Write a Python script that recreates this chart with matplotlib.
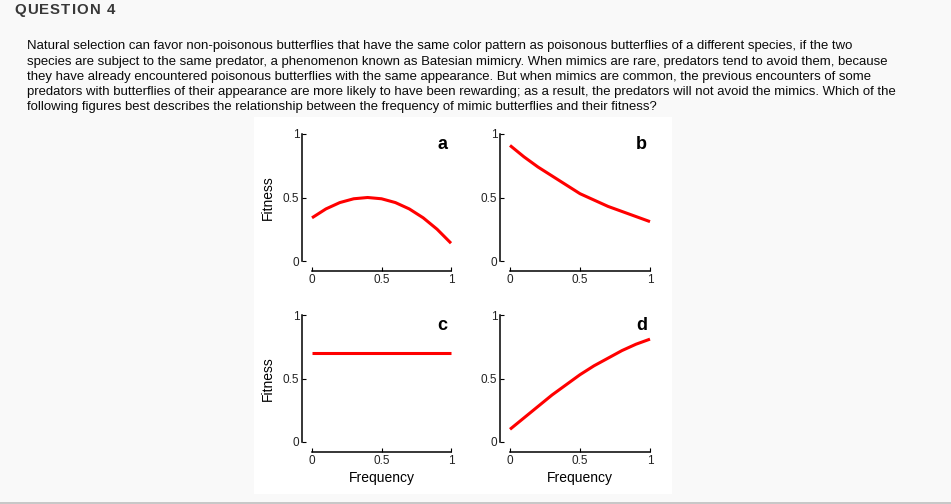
import matplotlib
matplotlib.use("Agg")
import matplotlib.pyplot as plt
from matplotlib.patches import Rectangle

freq = [0.0, 0.1, 0.2, 0.3, 0.4, 0.5, 0.6, 0.7, 0.8, 0.9, 1.0]
fitness_a = [0.34, 0.41, 0.46, 0.49, 0.50, 0.49, 0.46, 0.41, 0.34, 0.25, 0.14]
fitness_b = [0.91, 0.82, 0.74, 0.67, 0.60, 0.53, 0.48, 0.43, 0.39, 0.35, 0.31]
fitness_c = [0.70, 0.70, 0.70, 0.70, 0.70, 0.70, 0.70, 0.70, 0.70, 0.70, 0.70]
fitness_d = [0.10, 0.19, 0.28, 0.37, 0.45, 0.53, 0.60, 0.66, 0.72, 0.77, 0.81]
panel_letters = ["a", "b", "c", "d"]
tick_values = [0, 0.5, 1]
tick_labels = ["0", "0.5", "1"]

question_title = "QUESTION 4"
question_lines = [
    "Natural selection can favor non-poisonous butterflies that have the same color pattern as poisonous butterflies of a different species, if the two",
    "species are subject to the same predator, a phenomenon known as Batesian mimicry. When mimics are rare, predators tend to avoid them, because",
    "they have already encountered poisonous butterflies with the same appearance. But when mimics are common, the previous encounters of some",
    "predators with butterflies of their appearance are more likely to have been rewarding; as a result, the predators will not avoid the mimics. Which of the",
    "following figures best describes the relationship between the frequency of mimic butterflies and their fitness?",
]

W, H = 951, 504
FONT = "Liberation Sans"

fig = plt.figure(figsize=(W / 100, H / 100), dpi=100, facecolor="#f9f9f9")


def fx(px):
    return px / W


def fy(py):
    return 1 - py / H


# Белая подложка под рисунком и серая линия внизу (под осями)
fig.patches.append(Rectangle((fx(254), fy(494)), fx(672) - fx(254), fy(117) - fy(494),
                             transform=fig.transFigure, facecolor="white",
                             edgecolor="none", zorder=-10))
fig.patches.append(Rectangle((0, 0), 1, 2.5 / H, transform=fig.transFigure,
                             facecolor="#c8c8c8", edgecolor="none", zorder=-10))

# Заголовок с разрядкой
renderer = fig.canvas.get_renderer()
x = 14
for ch in question_title:
    if ch == " ":
        x += 5
        continue
    t = fig.text(fx(x), fy(14), ch, fontsize=10.8, fontweight="bold", family=FONT,
                 color="#383838", va="baseline", ha="left")
    x += t.get_window_extent(renderer).width + 1.2

# Текст вопроса
for i, line in enumerate(question_lines):
    fig.text(fx(27), fy(49.3 + i * 15.25), line, fontsize=9.45, family=FONT,
             color="#0a0a0a", va="baseline", ha="left")

# Положение осей в пикселях: (лево, верх, право, низ)
boxes = [(312, 134, 451, 261), (510, 134, 650, 261),
         (312, 315, 451, 442), (510, 315, 650, 442)]
series = [fitness_a, fitness_b, fitness_c, fitness_d]

for idx, (box, ys, letter) in enumerate(zip(boxes, series, panel_letters)):
    l, t, r, b = box
    ax = fig.add_axes([fx(l), fy(b), fx(r) - fx(l), fy(t) - fy(b)])
    ax.set_facecolor("none")

    ax.plot(freq, ys, color="#ff0000", linewidth=2.2, solid_capstyle="butt",
            solid_joinstyle="round", clip_on=False)

    ax.set_xlim(0, 1)
    ax.set_ylim(0, 1)
    for s in ["top", "right"]:
        ax.spines[s].set_visible(False)
    for s in ["left", "bottom"]:
        ax.spines[s].set_position(("outward", 7.2))
        ax.spines[s].set_linewidth(1.1)
        ax.spines[s].set_bounds(0, 1)
    ax.set_xticks(tick_values)
    ax.set_xticklabels(tick_labels)
    ax.set_yticks(tick_values)
    ax.set_yticklabels(tick_labels)
    ax.tick_params(direction="in", length=3, width=0.8, labelsize=8.5,
                   labelcolor="#222222", pad=2)
    for lab in ax.get_xticklabels() + ax.get_yticklabels():
        lab.set_family(FONT)

    ax.text(0.94, 0.92, letter, transform=ax.transAxes, fontsize=13,
            fontweight="bold", family=FONT, ha="center", va="center")

    if idx % 2 == 0:
        ax.set_ylabel("Fitness", fontsize=10, family=FONT, labelpad=6)
    if idx >= 2:
        ax.set_xlabel("Frequency", fontsize=10, family=FONT, labelpad=3)

fig.savefig("out.png", dpi=100, facecolor=fig.get_facecolor())
plt.close(fig)
